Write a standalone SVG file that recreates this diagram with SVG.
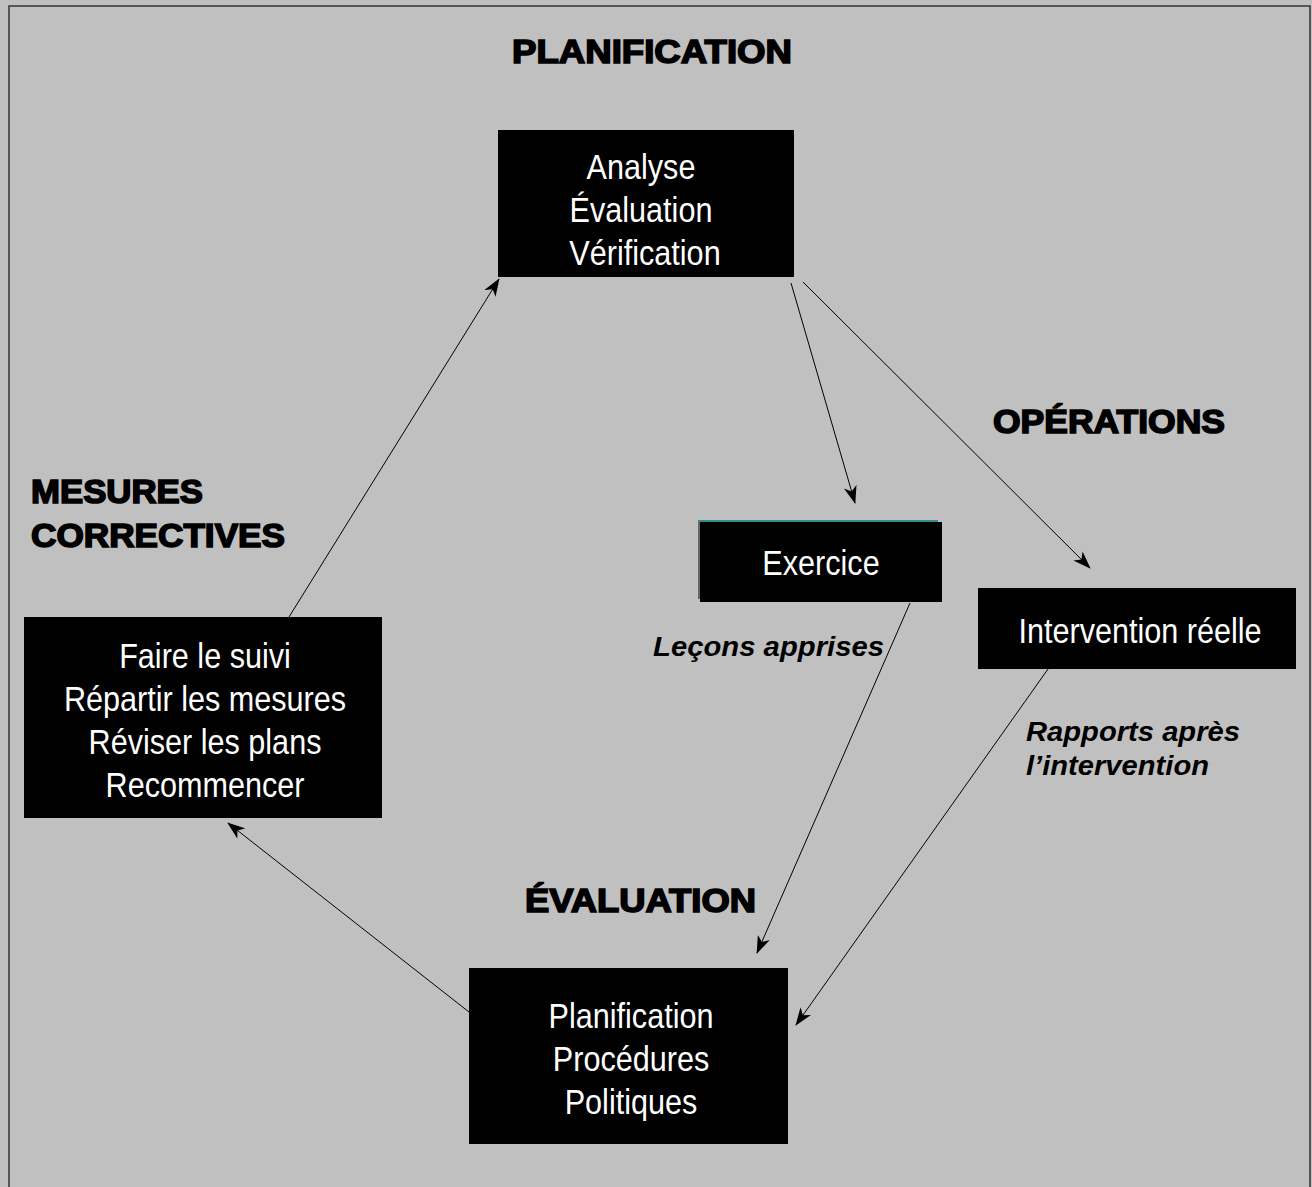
<svg xmlns="http://www.w3.org/2000/svg" width="1312" height="1187" viewBox="0 0 1312 1187">
<defs>
<style>
.bg{fill:#c0c0c0}
.box{fill:#000}
.nt{font-family:"Liberation Sans",Arial,sans-serif;font-size:36px;fill:#fff;text-anchor:middle}
.hd{font-family:"Liberation Sans",Arial,sans-serif;font-weight:bold;font-size:33px;fill:#000;stroke:#000;stroke-width:1.6}
.lb{font-family:"Liberation Sans",Arial,sans-serif;font-weight:bold;font-style:italic;font-size:27px;fill:#000}
.cn{stroke:#000;stroke-width:1;fill:none;marker-end:url(#ah)}
</style>
<marker id="ah" viewBox="0 0 18 13" refX="17" refY="6.5" markerWidth="18" markerHeight="13" markerUnits="userSpaceOnUse" orient="auto">
<path d="M0,0 L18,6.5 L0,13 L5,6.5 Z" fill="#000"/>
</marker>
</defs>
<rect class="bg" x="0" y="0" width="1312" height="1187"/>
<rect x="9" y="6" width="1301" height="1195" fill="#c0c0c0" stroke="#333" stroke-width="1.5"/>

<g id="connectors">
<line class="cn" x1="289" y1="617" x2="499" y2="279"/>
<line class="cn" x1="791" y1="283" x2="855" y2="503"/>
<line class="cn" x1="803" y1="282" x2="1090" y2="568"/>
<line class="cn" x1="910" y1="603" x2="757" y2="953"/>
<line class="cn" x1="1048" y1="669" x2="796" y2="1025"/>
<line class="cn" x1="469" y1="1012" x2="228" y2="823"/>
</g>

<g id="label-planification"><text class="hd" x="512" y="63" textLength="280" lengthAdjust="spacingAndGlyphs">PLANIFICATION</text></g>
<g id="label-operations"><text class="hd" x="993" y="433" textLength="232" lengthAdjust="spacingAndGlyphs">OPÉRATIONS</text></g>
<g id="label-mesures">
<text class="hd" x="31" y="503" textLength="172" lengthAdjust="spacingAndGlyphs">MESURES</text>
<text class="hd" x="31" y="547" textLength="254" lengthAdjust="spacingAndGlyphs">CORRECTIVES</text>
</g>
<g id="label-evaluation"><text class="hd" x="525" y="912" textLength="231" lengthAdjust="spacingAndGlyphs">ÉVALUATION</text></g>
<g id="label-lecons"><text class="lb" x="653" y="656" textLength="231" lengthAdjust="spacingAndGlyphs">Leçons apprises</text></g>
<g id="label-rapports">
<text class="lb" x="1026" y="741" textLength="214" lengthAdjust="spacingAndGlyphs">Rapports après</text>
<text class="lb" x="1026" y="775" textLength="183" lengthAdjust="spacingAndGlyphs">l’intervention</text>
</g>

<g id="node-analyse">
<rect class="box" x="498" y="130" width="296" height="147"/>
<text class="nt" transform="matrix(0.85 0 0 1 641 179)">Analyse</text>
<text class="nt" transform="matrix(0.85 0 0 1 641 222)">Évaluation</text>
<text class="nt" transform="matrix(0.85 0 0 1 645 265)">Vérification</text>
</g>
<g id="node-exercice">
<line x1="698" y1="521" x2="938" y2="521" stroke="#008080" stroke-width="1.5"/>
<rect x="698" y="522" width="2" height="77" fill="#666"/>
<rect class="box" x="700" y="522" width="242" height="80"/>
<text class="nt" transform="matrix(0.85 0 0 1 821 575)">Exercice</text>
</g>
<g id="node-intervention">
<rect class="box" x="978" y="588" width="318" height="81"/>
<text class="nt" transform="matrix(0.85 0 0 1 1140 643)">Intervention réelle</text>
</g>
<g id="node-mesures">
<rect class="box" x="24" y="617" width="358" height="201"/>
<text class="nt" transform="matrix(0.85 0 0 1 205 668)">Faire le suivi</text>
<text class="nt" transform="matrix(0.85 0 0 1 205 711)">Répartir les mesures</text>
<text class="nt" transform="matrix(0.85 0 0 1 205 754)">Réviser les plans</text>
<text class="nt" transform="matrix(0.85 0 0 1 205 797)">Recommencer</text>
</g>
<g id="node-planification">
<rect class="box" x="469" y="968" width="319" height="176"/>
<text class="nt" transform="matrix(0.85 0 0 1 631 1028)">Planification</text>
<text class="nt" transform="matrix(0.85 0 0 1 631 1071)">Procédures</text>
<text class="nt" transform="matrix(0.85 0 0 1 631 1114)">Politiques</text>
</g>
</svg>
